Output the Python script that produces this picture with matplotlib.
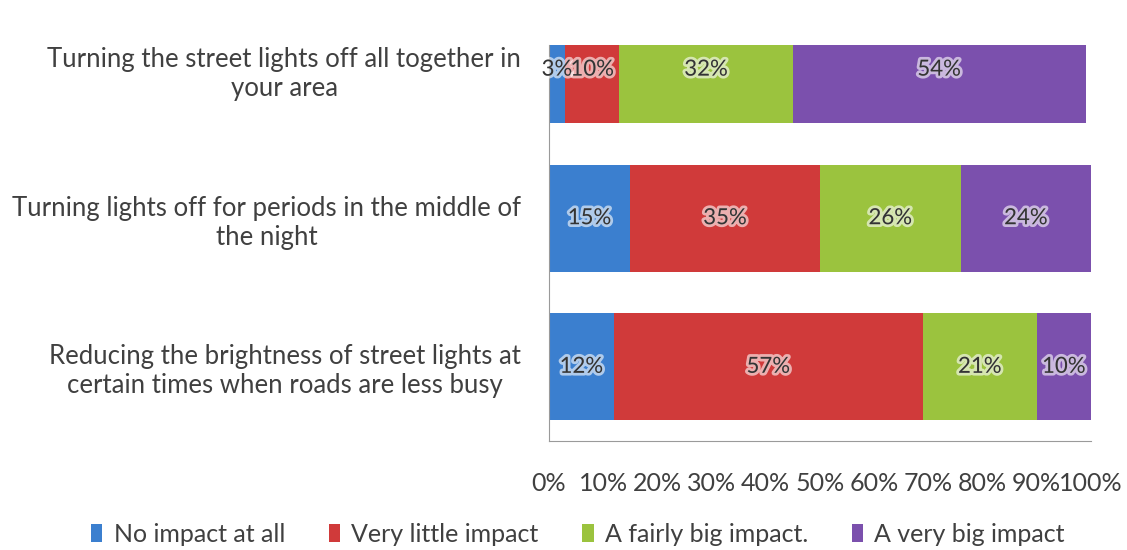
import numpy as np
import matplotlib.pyplot as plt
import matplotlib.patheffects as pe

questions = ['Reducing the brightness of street lights at\ncertain times when roads are less busy',
             'Turning lights off for periods in the middle of\nthe night',
             'Turning the street lights off all together in\nyour area']
responses = ['No impact at all', 'Very little impact', 'A fairly big impact.', 'A very big impact']
no_impact = [12, 15, 3]
little_impact = [57, 35, 10]
fairly_big = [21, 26, 32]
very_big = [10, 24, 54]
colors = ['#3b7fcf', '#d03a3a', '#9bc33e', '#7b50ad']

plt.rcParams['font.family'] = ['Lato', 'DejaVu Sans']

fig = plt.figure(figsize=(11.27, 5.5), dpi=100)
ax = fig.add_axes([0.487, 0.198, 0.481, 0.720])

y = np.arange(len(questions))
left = np.zeros(len(questions))
glow = [pe.withStroke(linewidth=4, foreground='white', alpha=0.6)]
for vals, name, c in zip([no_impact, little_impact, fairly_big, very_big], responses, colors):
    vals = np.array(vals, dtype=float)
    ax.barh(y, vals, left=left, height=0.72, color=c, label=name)
    for yi, l, v in zip(y, left, vals):
        ax.text(l + v / 2, yi, '%d%%' % v, ha='center', va='center',
                fontsize=16, color='#333333', path_effects=glow)
    left += vals

ax.set_xlim(0, 100)
ax.set_ylim(-0.5, 2.165)
ax.set_xticks(np.arange(0, 101, 10))
ax.set_xticklabels(['%d%%' % t for t in range(0, 101, 10)], fontsize=18, color='#404040')
ax.set_yticks(y)
ax.set_yticklabels(questions, fontsize=18.5, color='#404040', multialignment='center')
ax.tick_params(axis='x', length=0, pad=22)
ax.tick_params(axis='y', length=0, pad=20)
for s in ['top', 'right']:
    ax.spines[s].set_visible(False)
for s in ['left', 'bottom']:
    ax.spines[s].set_color('#9a9a9a')

fig.legend(loc='center', ncol=4, bbox_to_anchor=(578 / 1127, 0.029), frameon=False,
           fontsize=18, handlelength=0.45, handleheight=0.7, handletextpad=0.45,
           columnspacing=1.75, labelcolor='#404040')

fig.savefig('out.png', dpi=100)
